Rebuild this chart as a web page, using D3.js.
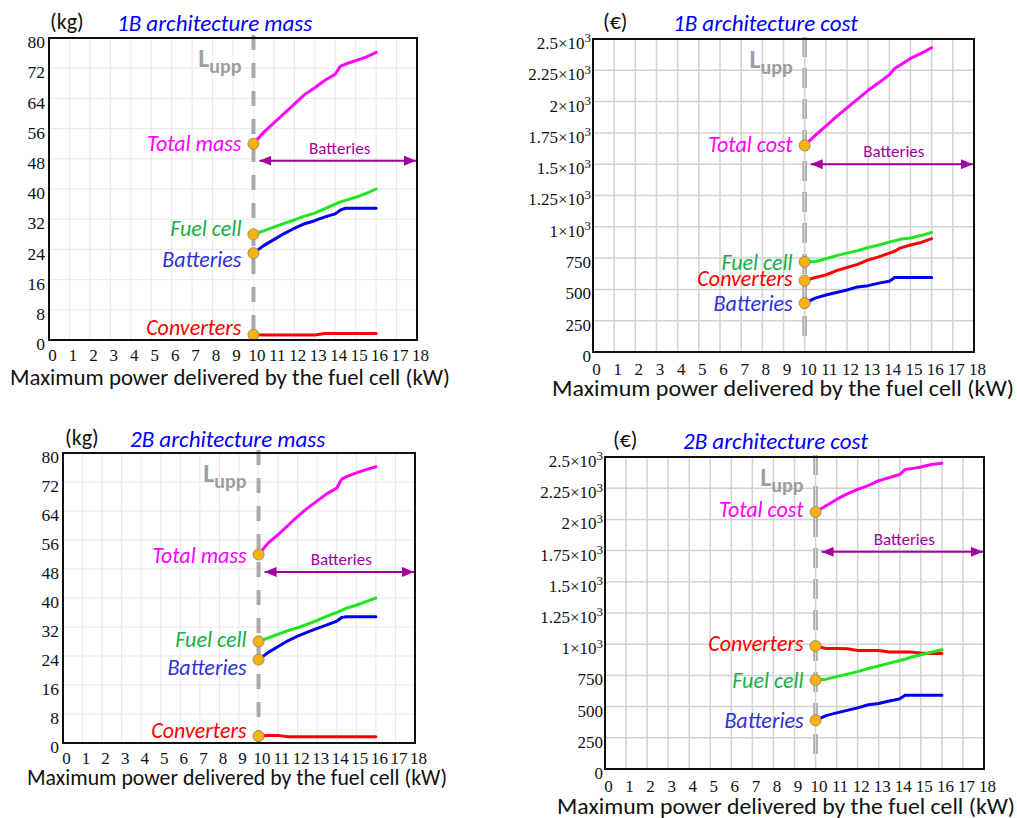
<!DOCTYPE html>
<html>
<head>
<meta charset="utf-8">
<script src="https://cdn.jsdelivr.net/npm/d3@7"></script>
<style>
  html, body { margin: 0; padding: 0; background: #fff; }
  svg { display: block; }
  .tickSerif { font-family: "Liberation Serif", "Times New Roman", serif; }
  .sansText { font-family: Carlito, Lato, "Open Sans", sans-serif; }
</style>
</head>
<body>
<svg id="fig" width="1017" height="818"></svg>
<script>
// ---- Data ---------------------------------------------------------------
// Fuel-cell rated power (kW) at which each architecture was sized
const power = [10, 10.5, 11, 11.5, 12, 12.5, 13, 13.5, 14, 14.25, 14.5, 15, 15.5, 16];

const xTicks = d3.range(0, 19);
const massTicks = [0, 8, 16, 24, 32, 40, 48, 56, 64, 72, 80];
const costTicks = [0, 250, 500, 750, 1000, 1250, 1500, 1750, 2000, 2250, 2500];
const costTickLabels = ["0", "250", "500", "750", "1×10^3", "1.25×10^3", "1.5×10^3",
                        "1.75×10^3", "2×10^3", "2.25×10^3", "2.5×10^3"];

// 1B architecture, mass (kg)
const mass1B_total      = [52, 55, 57.5, 60, 62.5, 65, 66.8, 68.8, 70.4, 72.5, 73.1, 74.0, 74.9, 76.2];
const mass1B_fuelCell   = [28, 28.9, 29.9, 30.9, 31.8, 32.8, 33.6, 34.8, 36.0, 36.6, 37.0, 37.8, 38.8, 40];
const mass1B_batteries  = [23, 25, 26.6, 28.2, 29.6, 30.8, 31.6, 32.6, 33.4, 34.4, 34.9, 34.9, 34.9, 34.9];
const mass1B_converters = [1.4, 1.3, 1.3, 1.3, 1.3, 1.3, 1.3, 1.7, 1.7, 1.7, 1.7, 1.7, 1.7, 1.7];

// 1B architecture, cost (€)
const cost1B_total      = [1650, 1730, 1805, 1880, 1950, 2020, 2090, 2150, 2215, 2265, 2290, 2345, 2385, 2430];
const cost1B_fuelCell   = [720, 722, 745, 770, 790, 810, 835, 855, 878, 888, 900, 910, 930, 955];
const cost1B_converters = [570, 595, 615, 650, 675, 700, 735, 760, 790, 805, 830, 855, 875, 905];
const cost1B_batteries  = [390, 430, 455, 475, 495, 520, 530, 550, 565, 595, 595, 595, 595, 595];

// 2B architecture, mass (kg)
const mass2B_total      = [52, 55.2, 57.5, 60, 62.5, 64.8, 66.8, 68.8, 70.3, 72.8, 73.5, 74.5, 75.4, 76.2];
const mass2B_fuelCell   = [28, 29, 30, 31, 31.8, 32.8, 33.8, 35, 36, 36.6, 37.2, 38, 39, 40];
const mass2B_batteries  = [23, 25, 26.6, 28.2, 29.5, 30.6, 31.6, 32.6, 33.6, 34.6, 34.8, 34.8, 34.8, 34.8];
const mass2B_converters = [1.9, 2.1, 2.1, 1.7, 1.7, 1.7, 1.7, 1.7, 1.7, 1.7, 1.7, 1.7, 1.7, 1.7];

// 2B architecture, cost (€)
const cost2B_total      = [2060, 2110, 2160, 2205, 2240, 2270, 2310, 2335, 2360, 2400, 2405, 2420, 2440, 2450];
const cost2B_converters = [985, 965, 965, 963, 950, 950, 950, 938, 938, 938, 938, 930, 925, 925];
const cost2B_fuelCell   = [712, 720, 740, 760, 780, 805, 825, 848, 870, 880, 895, 915, 935, 955];
const cost2B_batteries  = [390, 428, 450, 470, 490, 515, 525, 545, 562, 590, 590, 590, 590, 590];

// Upper limit of the fuel-cell power range (kW)
const lUpp = 10;

// ---- Styles ---------------------------------------------------------------
const seriesStyle = {
  total:      { line: "#ff00ff", text: "#ff00ff" },
  fuelCell:   { line: "#1ee61e", text: "#14b048" },
  batteries:  { line: "#0000f0", text: "#3030d8" },
  converters: { line: "#ff0000", text: "#ff0000" }
};
const arrowColor = "#a3009e";
const serifFont = '"Liberation Serif", "Times New Roman", serif';

// ---- Panel layout -----------------------------------------------------------
const panels = [
  {
    kind: "mass", left: 49, top: 38, right: 417, bottom: 340,
    yMax: 80, yTicks: massTicks, yLabels: massTicks.map(String),
    title: "1B architecture mass", titleX: 117, titleY: 31,
    unit: "(kg)", unitX: 50, unitY: 29,
    axisTitleX: 10, axisTitleY: 385, axisTitleLen: 440, arrowAt: 47.5,
    series: [
      { label: "Total mass", key: "total", values: mass1B_total, dy: 0 },
      { label: "Fuel cell", key: "fuelCell", values: mass1B_fuelCell, dy: -6 },
      { label: "Batteries", key: "batteries", values: mass1B_batteries, dy: 6 },
      { label: "Converters", key: "converters", values: mass1B_converters, dy: -7 }
    ]
  },
  {
    kind: "cost", left: 593, top: 39, right: 974, bottom: 352,
    yMax: 2500, yTicks: costTicks, yLabels: costTickLabels,
    title: "1B architecture cost", titleX: 673, titleY: 31,
    unit: "(€)", unitX: 603, unitY: 29,
    axisTitleX: 552, axisTitleY: 396, axisTitleLen: 462, arrowAt: 1500,
    series: [
      { label: "Total cost", key: "total", values: cost1B_total, dy: -1 },
      { label: "Fuel cell", key: "fuelCell", values: cost1B_fuelCell, dy: 0 },
      { label: "Converters", key: "converters", values: cost1B_converters, dy: -2 },
      { label: "Batteries", key: "batteries", values: cost1B_batteries, dy: 0 }
    ]
  },
  {
    kind: "mass", left: 63, top: 453, right: 415, bottom: 743,
    yMax: 80, yTicks: massTicks, yLabels: massTicks.map(String),
    title: "2B architecture mass", titleX: 130, titleY: 447,
    unit: "(kg)", unitX: 65, unitY: 445,
    axisTitleX: 27, axisTitleY: 785, axisTitleLen: 420, arrowAt: 47.2,
    series: [
      { label: "Total mass", key: "total", values: mass2B_total, dy: 1 },
      { label: "Fuel cell", key: "fuelCell", values: mass2B_fuelCell, dy: -2 },
      { label: "Batteries", key: "batteries", values: mass2B_batteries, dy: 8 },
      { label: "Converters", key: "converters", values: mass2B_converters, dy: -6 }
    ]
  },
  {
    kind: "cost", left: 605, top: 457, right: 984, bottom: 769,
    yMax: 2500, yTicks: costTicks, yLabels: costTickLabels,
    title: "2B architecture cost", titleX: 683, titleY: 449,
    unit: "(€)", unitX: 613, unitY: 447,
    axisTitleX: 557, axisTitleY: 814, axisTitleLen: 458, arrowAt: 1740,
    series: [
      { label: "Total cost", key: "total", values: cost2B_total, dy: -3 },
      { label: "Converters", key: "converters", values: cost2B_converters, dy: -3 },
      { label: "Fuel cell", key: "fuelCell", values: cost2B_fuelCell, dy: 0 },
      { label: "Batteries", key: "batteries", values: cost2B_batteries, dy: 0 }
    ]
  }
];

// ---- Drawing ----------------------------------------------------------------
const svg = d3.select("#fig");
svg.append("rect").attr("width", 1017).attr("height", 818).attr("fill", "#fff");

const defs = svg.append("defs");
defs.append("marker")
  .attr("id", "arrowHead")
  .attr("viewBox", "0 0 12 10")
  .attr("refX", 12).attr("refY", 5)
  .attr("markerWidth", 12).attr("markerHeight", 10)
  .attr("markerUnits", "userSpaceOnUse")
  .attr("orient", "auto-start-reverse")
  .append("path").attr("d", "M0,0 L12,5 L0,10 Z").attr("fill", arrowColor);

panels.forEach(p => {
  const g = svg.append("g");
  const x = d3.scaleLinear().domain([0, 18]).range([p.left, p.right]);
  const y = d3.scaleLinear().domain([0, p.yMax]).range([p.bottom, p.top]);
  const isCost = p.kind === "cost";
  const gridColor = isCost ? "#d2d2d2" : "#e9e9e9";
  const gridWidth = isCost ? 1.5 : 1;

  // grid
  g.append("g").selectAll("line").data(xTicks.slice(1, -1)).join("line")
    .attr("x1", d => x(d)).attr("x2", d => x(d))
    .attr("y1", p.top).attr("y2", p.bottom)
    .attr("stroke", gridColor).attr("stroke-width", gridWidth);
  g.append("g").selectAll("line").data(p.yTicks.slice(1, -1)).join("line")
    .attr("x1", p.left).attr("x2", p.right)
    .attr("y1", d => y(d)).attr("y2", d => y(d))
    .attr("stroke", gridColor).attr("stroke-width", gridWidth);

  // x axis labels (serif digits)
  const xAxis = d3.axisBottom(x).tickValues(xTicks).tickSize(0).tickPadding(0).tickFormat(d3.format("d"));
  const xa = g.append("g").attr("transform", `translate(0,${p.bottom})`).call(xAxis)
    .attr("font-family", null).attr("font-size", null).attr("class", "tickSerif");
  xa.select(".domain").remove();
  xa.selectAll("text")
    .attr("y", isCost ? 23 : 21).attr("dy", 0).attr("dx", 3)
    .style("font-family", serifFont)
    .style("font-size", "17px").attr("fill", "#111");

  // y axis labels
  const yAxis = d3.axisLeft(y).tickValues(p.yTicks).tickSize(0).tickPadding(0).tickFormat(() => "");
  const ya = g.append("g").attr("transform", `translate(${p.left},0)`).call(yAxis)
    .attr("font-family", null).attr("font-size", null).attr("class", "tickSerif");
  ya.select(".domain").remove();
  ya.selectAll(".tick text").each(function(d, k) {
    const t = d3.select(this)
      .attr("x", isCost ? -2 : -4).attr("dy", "0.32em").attr("y", 4)
      .style("font-family", serifFont)
      .style("font-size", isCost ? "17px" : "17.5px")
      .attr("fill", "#111").attr("text-anchor", "end");
    const parts = p.yLabels[k].split("^");
    t.text(null);
    t.append("tspan").text(parts[0]);
    if (parts.length > 1) {
      t.append("tspan").attr("dy", "-0.5em").style("font-size", "13px").text(parts[1]);
    }
  });

  // L_upp limit line
  const xl = x(lUpp);
  if (isCost) {
    g.append("line").attr("x1", xl).attr("x2", xl).attr("y1", p.top - 2).attr("y2", p.bottom - 10)
      .attr("stroke", "#a8a8a8").attr("stroke-width", 4.5).attr("stroke-dasharray", "20,11");
    g.append("line").attr("x1", xl).attr("x2", xl).attr("y1", p.top - 2).attr("y2", p.bottom - 10)
      .attr("stroke", "#dcdcdc").attr("stroke-width", 1.2).attr("stroke-dasharray", "20,11");
  } else {
    g.append("line").attr("x1", xl).attr("x2", xl).attr("y1", p.top - 3).attr("y2", p.bottom)
      .attr("stroke", "#a9a9a9").attr("stroke-width", 4).attr("stroke-dasharray", "15,13");
  }
  const lt = g.append("text").attr("class", "sansText")
    .attr("x", xl - 12).attr("y", p.top + 29)
    .attr("text-anchor", "end").attr("font-weight", "bold")
    .attr("fill", "#9d9d9d");
  lt.append("tspan").style("font-size", "26px").text("L");
  lt.append("tspan").style("font-size", "20px").attr("dy", 6).text("upp");

  // "Batteries" range arrow
  const ay = y(p.arrowAt);
  const ax0 = xl + 6, ax1 = p.right - 1;
  g.append("line").attr("x1", ax0).attr("x2", ax1).attr("y1", ay).attr("y2", ay)
    .attr("stroke", arrowColor).attr("stroke-width", 2)
    .attr("marker-start", "url(#arrowHead)").attr("marker-end", "url(#arrowHead)");
  g.append("text").attr("class", "sansText").attr("x", (ax0 + ax1) / 2 + 2).attr("y", ay - 7)
    .attr("text-anchor", "middle").style("font-size", "17px")
    .attr("fill", arrowColor).text("Batteries");

  // series
  const line = d3.line().x((d, k) => x(power[k])).y(d => y(d));
  p.series.forEach(s => {
    g.append("path").datum(s.values).attr("d", line)
      .attr("fill", "none").attr("stroke", seriesStyle[s.key].line)
      .attr("stroke-width", 3).attr("stroke-linejoin", "round").attr("stroke-linecap", "round");
  });
  p.series.forEach(s => {
    const cx = x(power[0]), cy = y(s.values[0]);
    g.append("circle").attr("cx", cx).attr("cy", cy).attr("r", 5.5)
      .attr("fill", "#f7b30c").attr("stroke", "#9a8a6a").attr("stroke-width", 1);
    g.append("text").attr("class", "sansText").attr("x", cx - 12).attr("y", cy + s.dy).attr("dy", "0.35em")
      .attr("text-anchor", "end").attr("font-style", "italic")
      .style("font-size", "22px").attr("fill", seriesStyle[s.key].text).text(s.label);
  });

  // frame
  g.append("rect").attr("x", p.left).attr("y", p.top)
    .attr("width", p.right - p.left).attr("height", p.bottom - p.top)
    .attr("fill", "none").attr("stroke", "#111").attr("stroke-width", 2);

  // titles
  g.append("text").attr("class", "sansText").attr("x", p.titleX).attr("y", p.titleY)
    .attr("font-style", "italic").style("font-size", "23px")
    .attr("fill", "#0000ff").text(p.title);
  g.append("text").attr("class", "sansText").attr("x", p.unitX).attr("y", p.unitY)
    .style("font-size", "22px").attr("fill", "#111").text(p.unit);
  g.append("text").attr("class", "sansText").attr("x", p.axisTitleX).attr("y", p.axisTitleY)
    .style("font-size", "23px").attr("fill", "#111")
    .attr("textLength", p.axisTitleLen).attr("lengthAdjust", "spacingAndGlyphs")
    .text("Maximum power delivered by the fuel cell (kW)");
});
</script>
</body>
</html>
